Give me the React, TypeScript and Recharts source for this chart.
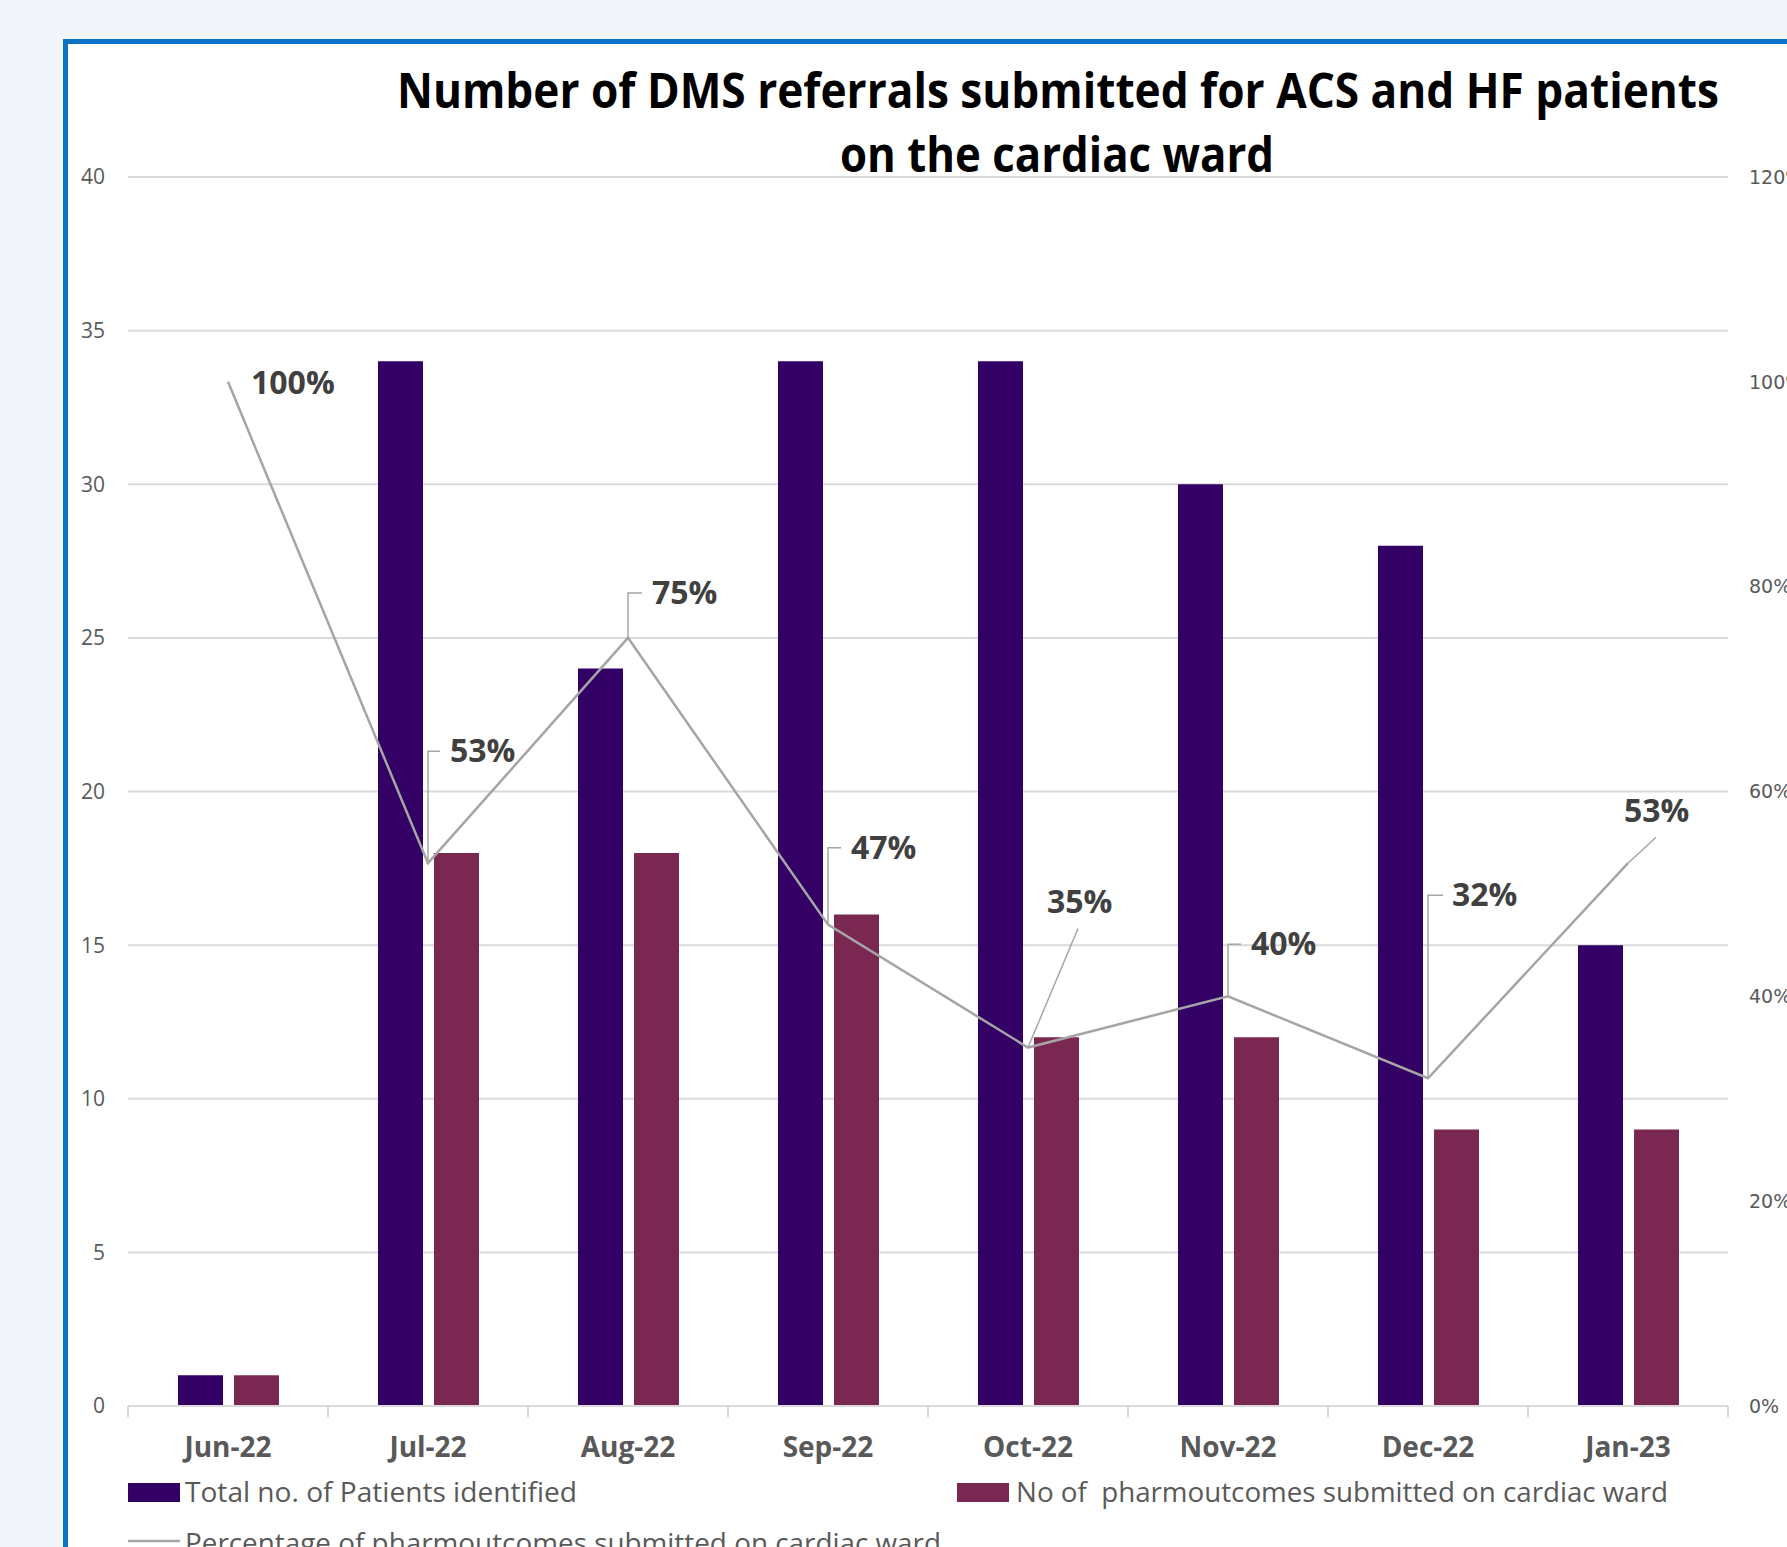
import React from 'react';
import {
  ComposedChart,
  Bar,
  Line,
  XAxis,
  YAxis,
  CartesianGrid,
  LabelList,
  Legend
} from 'recharts';

const months = ['Jun-22', 'Jul-22', 'Aug-22', 'Sep-22', 'Oct-22', 'Nov-22', 'Dec-22', 'Jan-23'];
const totalPatients = [1, 34, 24, 34, 34, 30, 28, 15];
const pharmoutcomesSubmitted = [1, 18, 18, 16, 12, 12, 9, 9];
const percentSubmitted = [100, 53, 75, 47, 35, 40, 32, 53];
const leftTicks = [0, 5, 10, 15, 20, 25, 30, 35, 40];
const rightTicks = [0, 20, 40, 60, 80, 100, 120];

const data = months.map((month, i) => ({
  month,
  total: totalPatients[i],
  submitted: pharmoutcomesSubmitted[i],
  pct: percentSubmitted[i]
}));

// data labels were dragged around by hand in the original, so keep their offsets here
const labelPlacement = [
  { dx: 23, dy: 1, leader: 'none', ex: 0, ey: 0 },
  { dx: 22, dy: -112, leader: 'elbow', ex: 12, ey: 0 },
  { dx: 24, dy: -45, leader: 'elbow', ex: 14, ey: 0 },
  { dx: 23, dy: -77, leader: 'elbow', ex: 13, ey: 0 },
  { dx: 19, dy: -146, leader: 'diag', ex: 50, ey: -119 },
  { dx: 23, dy: -52, leader: 'elbow', ex: 13, ey: 0 },
  { dx: 24, dy: -183, leader: 'elbow', ex: 15, ey: 0 },
  { dx: -4, dy: -52, leader: 'diag', ex: 28, ey: -26 }
];

const PURPLE = '#330066';
const MAROON = '#7A2852';
const LINE_GREY = '#A5A5A5';
const GRID = '#D9D9D9';
const AXIS_TEXT = '#595959';

function PctLabel(props: any) {
  const { x, y, value, index } = props;
  const p = labelPlacement[index];
  if (!p) return null;
  const lx = x + p.dx;
  const ly = y + p.dy;
  let leader = null;
  if (p.leader === 'elbow') {
    leader = (
      <polyline
        points={`${x},${y} ${x},${ly} ${x + p.ex},${ly}`}
        fill="none"
        stroke="#A6A6A6"
        strokeWidth={1.5}
      />
    );
  } else if (p.leader === 'diag') {
    leader = (
      <line x1={x} y1={y} x2={x + p.ex} y2={y + p.ey} stroke="#A6A6A6" strokeWidth={1.5} />
    );
  }
  return (
    <g>
      {leader}
      <text
        x={lx}
        y={ly + 11}
        fontFamily="Open Sans"
        fontWeight={700}
        fontSize={32}
        fill="#404040"
      >
        {value}%
      </text>
    </g>
  );
}

function MonthTick(props: any) {
  const { x, y, payload, index, visibleTicksCount } = props;
  const half = payload && payload.offset ? payload.offset : 100;
  return (
    <g>
      <line x1={x - half} y1={y} x2={x - half} y2={y + 11} stroke={GRID} strokeWidth={2} />
      {index === visibleTicksCount - 1 && (
        <line x1={x + half} y1={y} x2={x + half} y2={y + 11} stroke={GRID} strokeWidth={2} />
      )}
      <text
        x={x}
        y={y + 51}
        textAnchor="middle"
        fontFamily="Open Sans"
        fontWeight={700}
        fontSize={28}
        fill={AXIS_TEXT}
      >
        {payload.value}
      </text>
    </g>
  );
}

function LegendBlock() {
  const txt = { fontFamily: 'Open Sans', fontSize: 27, fill: AXIS_TEXT };
  return (
    <svg width={1787} height={90} style={{ display: 'block' }}>
      <rect x={128} y={13} width={52} height={19} fill={PURPLE} />
      <text x={185} y={32} textLength={392} lengthAdjust="spacingAndGlyphs" {...txt}>
        Total no. of Patients identified
      </text>
      <rect x={957} y={13} width={52} height={19} fill={MAROON} />
      <text x={1016} y={32} textLength={652} lengthAdjust="spacingAndGlyphs" {...txt} xmlSpace="preserve">
        No of  pharmoutcomes submitted on cardiac ward
      </text>
      <line x1={128} y1={71} x2={180} y2={71} stroke={LINE_GREY} strokeWidth={2.5} />
      <text x={185} y={83} textLength={756} lengthAdjust="spacingAndGlyphs" {...txt}>
        Percentage of pharmoutcomes submitted on cardiac ward
      </text>
    </svg>
  );
}

export default function App() {
  return (
    <div
      style={{
        position: 'fixed',
        left: 0,
        top: 0,
        width: 1787,
        height: 1547,
        overflow: 'hidden',
        background: '#F2F6FA'
      }}
    >
      {/* chart area frame */}
      <div
        style={{
          position: 'absolute',
          left: 63,
          top: 39,
          width: 1800,
          height: 1600,
          border: '5px solid #0B72C6',
          boxSizing: 'border-box',
          background: '#FFFFFF'
        }}
      />

      <div style={{ position: 'absolute', left: 0, top: 0 }}>
        <ComposedChart
          width={1787}
          height={1547}
          data={data}
          margin={{ top: 177, right: 0, bottom: 81, left: 0 }}
          barGap={11}
        >
          <CartesianGrid yAxisId="left" horizontal vertical={false} stroke={GRID} strokeWidth={2} />

          <XAxis
            dataKey="month"
            interval={0}
            height={60}
            axisLine={{ stroke: GRID, strokeWidth: 2 }}
            tickLine={false}
            tickSize={0}
            tickMargin={0}
            tick={<MonthTick />}
          />

          <YAxis
            yAxisId="left"
            domain={[0, 40]}
            ticks={leftTicks}
            width={128}
            axisLine={false}
            tickLine={false}
            tickSize={0}
            tickMargin={23}
            tick={{ fill: AXIS_TEXT, fontSize: 21, fontFamily: 'Open Sans' }}
          />

          <YAxis
            yAxisId="right"
            orientation="right"
            domain={[0, 120]}
            ticks={rightTicks}
            width={59}
            axisLine={false}
            tickLine={false}
            tickSize={0}
            tickMargin={21}
            tickFormatter={(v: number) => `${v}%`}
            tick={{ fill: AXIS_TEXT, fontSize: 19, fontFamily: 'DejaVu Sans', textAnchor: 'start' }}
          />

          <Legend
            layout="horizontal"
            verticalAlign="middle"
            align="center"
            wrapperStyle={{ left: 0, top: 1470, width: 1787, height: 90 }}
            content={() => <LegendBlock />}
          />

          <Bar
            yAxisId="left"
            dataKey="total"
            name="Total no. of Patients identified"
            fill={PURPLE}
            barSize={45}
            isAnimationActive={false}
          />
          <Bar
            yAxisId="left"
            dataKey="submitted"
            name="No of  pharmoutcomes submitted on cardiac ward"
            fill={MAROON}
            barSize={45}
            isAnimationActive={false}
          />
          <Line
            yAxisId="right"
            type="linear"
            dataKey="pct"
            name="Percentage of pharmoutcomes submitted on cardiac ward"
            stroke={LINE_GREY}
            strokeWidth={2.5}
            dot={false}
            activeDot={false}
            isAnimationActive={false}
          >
            <LabelList dataKey="pct" content={<PctLabel />} />
          </Line>
        </ComposedChart>
      </div>

      {/* title sits above the plot svg */}
      <svg
        width={1787}
        height={220}
        style={{ position: 'absolute', left: 0, top: 0, pointerEvents: 'none' }}
      >
        <text
          x={397}
          y={108}
          textLength={1322}
          lengthAdjust="spacingAndGlyphs"
          fontFamily="Open Sans"
          fontWeight={700}
          fontSize={48}
          fill="#000000"
        >
          Number of DMS referrals submitted for ACS and HF patients
        </text>
        <text
          x={840}
          y={172}
          textLength={434}
          lengthAdjust="spacingAndGlyphs"
          fontFamily="Open Sans"
          fontWeight={700}
          fontSize={48}
          fill="#000000"
        >
          on the cardiac ward
        </text>
      </svg>
    </div>
  );
}
